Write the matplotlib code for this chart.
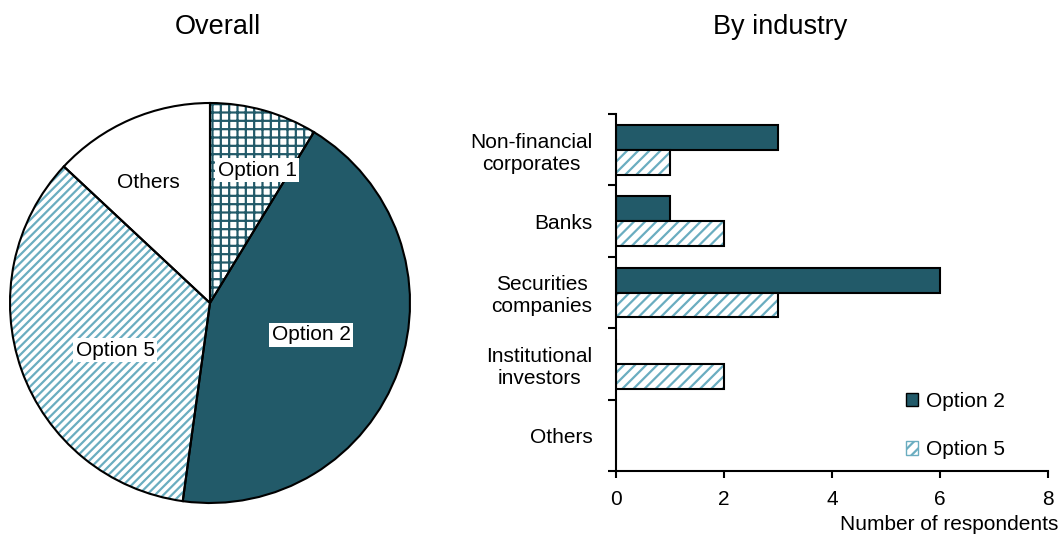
import matplotlib
matplotlib.use('Agg')
import matplotlib.pyplot as plt
from matplotlib.patches import Patch

plt.rcParams['font.family'] = ['Liberation Sans', 'DejaVu Sans']
plt.rcParams['hatch.linewidth'] = 1.6

# date
pie_labels = ['Option 1', 'Option 2', 'Option 5', 'Others']
pie_values = [2, 10, 8, 3]
industries = ['Non-financial\ncorporates', 'Banks', 'Securities\ncompanies',
              'Institutional\ninvestors', 'Others']
opt2 = [3, 1, 6, 0, 0]
opt5 = [1, 2, 3, 2, 0]

dark = '#225a69'
light = '#6aadc0'

fig = plt.figure(figsize=(10.59, 5.35), dpi=100)

# pie - stanga
ax1 = fig.add_axes([10/1059, 1-503/535, 400/1059, 400/535])
wedges, _ = ax1.pie(pie_values, startangle=90, counterclock=False,
                    colors=['white', dark, 'white', 'white'],
                    wedgeprops=dict(linewidth=0))
wedges[0].set_hatch('++')
wedges[0].set_edgecolor(dark)
wedges[2].set_hatch('////')
wedges[2].set_edgecolor(light)
# contur negru peste
wedges2, _ = ax1.pie(pie_values, startangle=90, counterclock=False,
                     wedgeprops=dict(fill=False, edgecolor='black', linewidth=1.5))
for w in wedges2:
    w.set_clip_on(False)
ax1.set_xlim(-1, 1)
ax1.set_ylim(-1, 1)
ax1.axis('off')

box = dict(facecolor='white', edgecolor='none', pad=2)
ax1.text(0.235, 0.665, 'Option 1', ha='center', va='center', fontsize=15, bbox=box)
ax1.text(0.505, -0.16, 'Option 2', ha='center', va='center', fontsize=15, bbox=box)
ax1.text(-0.475, -0.235, 'Option 5', ha='center', va='center', fontsize=15, bbox=box)
ax1.text(-0.31, 0.6, 'Others', ha='center', va='center', fontsize=15)

fig.text(218/1059, 1-27/535, 'Overall', ha='center', va='center', fontsize=19.5)
fig.text(780/1059, 1-27/535, 'By industry', ha='center', va='center', fontsize=19.5)

# bare - dreapta
ax2 = fig.add_axes([616/1059, 1-471/535, 432/1059, 357/535])
pos = list(range(len(industries)))
h = 0.35
ax2.barh([p - h/2 for p in pos], opt2, height=h, color=dark,
         edgecolor='black', linewidth=1.5, label='Option 2')
ax2.barh([p + h/2 for p in pos], opt5, height=h, color='white',
         edgecolor=light, linewidth=0, hatch='///')
ax2.barh([p + h/2 for p in pos], opt5, height=h, fill=False,
         edgecolor='black', linewidth=1.5)
ax2.set_ylim(4.5, -0.5)
ax2.set_xlim(0, 8)
ax2.set_xticks([0, 2, 4, 6, 8])
ax2.set_yticks([-0.5, 0.5, 1.5, 2.5, 3.5, 4.5])
ax2.set_yticklabels([])
ax2.set_yticks(pos, minor=True)
ax2.set_yticklabels(industries, minor=True, ha='right', multialignment='center')
ax2.tick_params(axis='y', which='minor', length=0, pad=17, labelsize=15)
ax2.tick_params(axis='y', which='major', length=6, width=1.5)
ax2.tick_params(axis='x', length=5, width=1.5, pad=9, labelsize=15)
for s in ['top', 'right']:
    ax2.spines[s].set_visible(False)
for s in ['left', 'bottom']:
    ax2.spines[s].set_linewidth(1.5)

handles = [Patch(facecolor=dark, edgecolor='black', label='Option 2'),
           Patch(facecolor='white', edgecolor=light, hatch='///', label='Option 5')]
ax2.legend(handles=handles, loc='lower right', bbox_to_anchor=(0.945, -0.02),
           frameon=False, fontsize=15, handlelength=0.6, handleheight=0.6,
           handletextpad=0.4, labelspacing=1.4)

fig.text(1058/1059, 1-525/535, 'Number of respondents', ha='right', va='center', fontsize=15)

plt.savefig('out.png', dpi=100)
